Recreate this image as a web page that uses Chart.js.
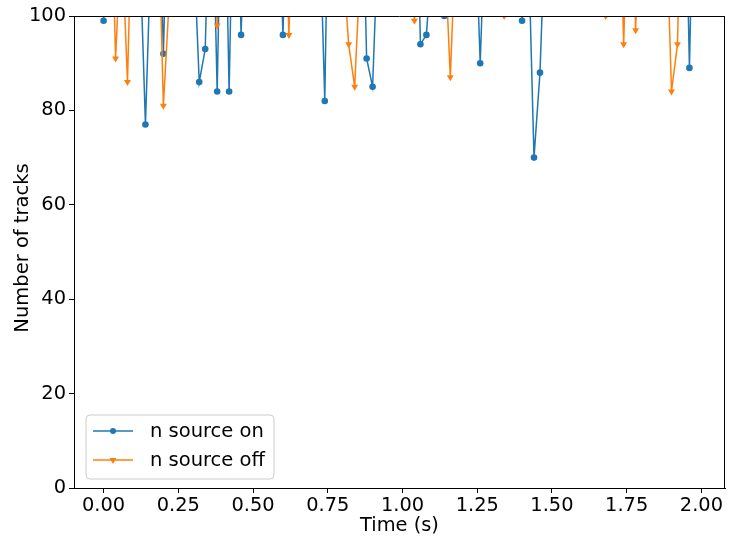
<!DOCTYPE html>
<html>
<head>
<meta charset="utf-8">
<title>Number of tracks</title>
<script src="https://cdn.jsdelivr.net/npm/chart.js@4.4.0/dist/chart.umd.min.js"></script>
<style>
  body { margin: 0; background: #fff; }
  canvas { display: block; }
</style>
</head>
<body>
<canvas id="tracksChart" width="729" height="536" style="width:729px;height:536px"></canvas>
<script>
// Sample times (s)
const times = [
  0.00, 0.02, 0.04, 0.06, 0.08, 0.10, 0.12, 0.14, 0.16, 0.18,
  0.20, 0.22, 0.24, 0.26, 0.28, 0.30, 0.32, 0.34, 0.36, 0.38,
  0.40, 0.42, 0.44, 0.46, 0.48, 0.50, 0.52, 0.54, 0.56, 0.58,
  0.60, 0.62, 0.64, 0.66, 0.68, 0.70, 0.72, 0.74, 0.76, 0.78,
  0.80, 0.82, 0.84, 0.86, 0.88, 0.90, 0.92, 0.94, 0.96, 0.98,
  1.00, 1.02, 1.04, 1.06, 1.08, 1.10, 1.12, 1.14, 1.16, 1.18,
  1.20, 1.22, 1.24, 1.26, 1.28, 1.30, 1.32, 1.34, 1.36, 1.38,
  1.40, 1.42, 1.44, 1.46, 1.48, 1.50, 1.52, 1.54, 1.56, 1.58,
  1.60, 1.62, 1.64, 1.66, 1.68, 1.70, 1.72, 1.74, 1.76, 1.78,
  1.80, 1.82, 1.84, 1.86, 1.88, 1.90, 1.92, 1.94, 1.96, 1.98
];

// Track counts with the neutron source on
const sourceOnTracks = [
   99, 130, 125, 128, 122, 126, 117,  77, 117, 140,
   92, 140, 125, 130, 122, 117,  86,  93, 140,  84,
  150,  84, 150,  96, 140, 130, 125, 135, 128, 140,
   96, 140, 130, 125, 132, 128, 127,  82, 160, 135,
  130, 128, 125, 145,  91,  85, 120, 130, 125, 135,
  128, 130, 150,  94,  96, 114, 125, 100, 125, 130,
  128, 135, 127,  90, 127, 130, 125, 135, 128, 130,
   99, 118,  70,  88, 124, 130, 125, 135, 128, 130,
  125, 132, 128, 135, 130, 125, 128, 135, 130, 128,
  125, 132, 135, 130, 128, 125, 135, 150,  89, 150
];

// Track counts with the neutron source off
const sourceOffTracks = [
  130, 143,  91, 118,  86, 136, 130, 125, 135, 131,
   81, 104, 125, 130, 128, 135, 125, 130, 140,  98,
  140, 130, 125, 135, 128, 130, 125, 132, 128, 135,
  140,  96, 140, 130, 125, 135, 128, 130, 125, 132,
  112,  94,  85, 112, 125, 130, 128, 135, 125, 130,
  128, 135,  99, 130, 128, 135, 125, 116,  87, 120,
  130, 128, 135, 125, 130, 128, 135, 100, 130, 125,
  135, 128, 130, 125, 132, 128, 135, 130, 125, 128,
  135, 130, 128, 125, 100, 130, 140,  94, 140,  97,
  140, 130, 128, 135, 126,  84,  94, 150, 135, 130
];

const xTickValues = [0, 0.25, 0.5, 0.75, 1.0, 1.25, 1.5, 1.75, 2.0];
const yTickValues = [0, 20, 40, 60, 80, 100];

const BLUE = '#1f77b4';
const ORANGE = '#ff7f0e';
const FONT = '"DejaVu Sans", sans-serif';

function toPoints(values) {
    return times.map((t, i) => ({ x: t, y: values[i] }));
}

// Draw a small marker the same way the datasets do
function drawMarker(ctx, style, x, y, r, color) {
    ctx.fillStyle = color;
    ctx.beginPath();
    if (style === 'circle') {
        ctx.arc(x, y, r, 0, Math.PI * 2);
    } else {
        // downward triangle
        ctx.moveTo(x - r * 0.866, y - r * 0.5);
        ctx.lineTo(x + r * 0.866, y - r * 0.5);
        ctx.lineTo(x, y + r);
        ctx.closePath();
    }
    ctx.fill();
}

// Full box around the plot, the y-axis title and a legend in the lower left corner
const frameAndLegend = {
    id: 'frameAndLegend',
    afterDraw(chart) {
        const ctx = chart.ctx;
        const area = chart.chartArea;
        ctx.save();

        ctx.strokeStyle = '#000';
        ctx.lineWidth = 1;
        ctx.beginPath();
        ctx.moveTo(area.left, area.top + 0.5);
        ctx.lineTo(area.right, area.top + 0.5);
        ctx.moveTo(area.right - 0.5, area.top);
        ctx.lineTo(area.right - 0.5, area.bottom);
        ctx.stroke();

        // y-axis title
        ctx.save();
        ctx.translate(28, (area.top + area.bottom) / 2 - 4);
        ctx.rotate(-Math.PI / 2);
        ctx.font = '19.5px ' + FONT;
        ctx.fillStyle = '#000';
        ctx.textAlign = 'center';
        ctx.textBaseline = 'alphabetic';
        ctx.fillText('Number of tracks', 0, 0);
        ctx.restore();

        const boxX = 86, boxY = 415, boxW = 188, boxH = 64, rad = 4;
        ctx.beginPath();
        ctx.moveTo(boxX + rad, boxY);
        ctx.arcTo(boxX + boxW, boxY, boxX + boxW, boxY + boxH, rad);
        ctx.arcTo(boxX + boxW, boxY + boxH, boxX, boxY + boxH, rad);
        ctx.arcTo(boxX, boxY + boxH, boxX, boxY, rad);
        ctx.arcTo(boxX, boxY, boxX + boxW, boxY, rad);
        ctx.closePath();
        ctx.fillStyle = 'rgba(255,255,255,0.8)';
        ctx.fill();
        ctx.strokeStyle = '#cccccc';
        ctx.stroke();

        ctx.font = '19.5px ' + FONT;
        ctx.textBaseline = 'middle';
        ctx.textAlign = 'left';
        chart.data.datasets.forEach((ds, i) => {
            const rowY = 431 + i * 29;
            ctx.strokeStyle = ds.borderColor;
            ctx.lineWidth = ds.borderWidth;
            ctx.beginPath();
            ctx.moveTo(93, rowY);
            ctx.lineTo(133, rowY);
            ctx.stroke();
            drawMarker(ctx, ds.markerShape, 113, rowY, ds.markerShape === 'circle' ? 3 : 4, ds.borderColor);
            ctx.fillStyle = '#000';
            ctx.fillText(ds.label, 150, rowY + 1);
        });

        ctx.restore();
    }
};

new Chart(document.getElementById('tracksChart'), {
    type: 'line',
    data: {
        datasets: [
            {
                label: 'n source on',
                data: toPoints(sourceOnTracks),
                borderColor: BLUE,
                backgroundColor: BLUE,
                borderWidth: 1.5,
                pointStyle: 'circle',
                markerShape: 'circle',
                pointRadius: 3.3,
                pointBorderWidth: 0,
                tension: 0,
                clip: 0,
                order: 1
            },
            {
                label: 'n source off',
                data: toPoints(sourceOffTracks),
                borderColor: ORANGE,
                backgroundColor: ORANGE,
                borderWidth: 1.5,
                pointStyle: 'triangle',
                markerShape: 'triangle',
                pointRotation: 180,
                pointRadius: 4,
                pointBorderWidth: 0,
                tension: 0,
                clip: 0,
                order: 0
            }
        ]
    },
    options: {
        responsive: false,
        animation: false,
        layout: { padding: { top: 16, right: 1, left: 0, bottom: 0 } },
        plugins: {
            legend: { display: false },
            tooltip: { enabled: false }
        },
        scales: {
            x: {
                type: 'linear',
                min: -0.099,
                max: 2.079,
                afterBuildTicks: scale => {
                    scale.ticks = xTickValues.map(v => ({ value: v }));
                },
                afterFit: scale => { scale.height = 48; },
                ticks: {
                    color: '#000',
                    font: { family: FONT, size: 19.4 },
                    padding: 1,
                    maxRotation: 0,
                    callback: v => v.toFixed(2)
                },
                grid: {
                    display: true,
                    drawOnChartArea: false,
                    drawTicks: true,
                    tickLength: 5,
                    color: '#000'
                },
                border: { display: true, color: '#000', width: 1 },
                title: {
                    display: true,
                    text: 'Time (s)',
                    color: '#000',
                    font: { family: FONT, size: 19.4 },
                    padding: { top: 0, bottom: -2 }
                }
            },
            y: {
                type: 'linear',
                min: 0,
                max: 100,
                afterBuildTicks: scale => {
                    scale.ticks = yTickValues.map(v => ({ value: v }));
                },
                afterFit: scale => { scale.width = 74; },
                ticks: {
                    color: '#000',
                    font: { family: FONT, size: 19.4 },
                    padding: 3
                },
                grid: {
                    display: true,
                    drawOnChartArea: false,
                    drawTicks: true,
                    tickLength: 5,
                    color: '#000'
                },
                border: { display: true, color: '#000', width: 1 }
            }
        }
    },
    plugins: [frameAndLegend]
});
</script>
</body>
</html>
